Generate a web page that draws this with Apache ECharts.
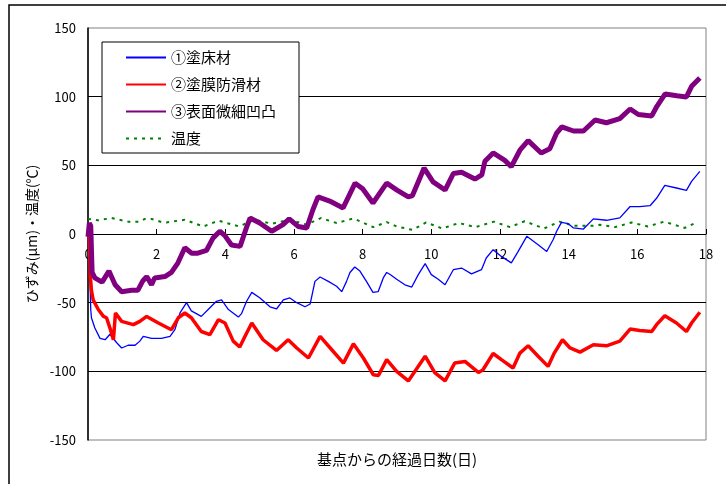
<!DOCTYPE html>
<html>
<head>
<meta charset="utf-8">
<script src="https://cdn.jsdelivr.net/npm/echarts@6/dist/echarts.min.js"></script>
<style>
  html, body { margin: 0; padding: 0; background: #fff; }
  #chart { width: 726px; height: 484px; }
</style>
</head>
<body>
<div id="chart"></div>
<script>
// 値は画像から読み取り [経過日数, 値]
var seriesNames = ['①塗床材', '②塗膜防滑材', '③表面微細凹凸', '温度'];
var yTicks = [-150, -100, -50, 0, 50, 100, 150];

var floorPts = [
  [0.02,0],[0.08,-55],[0.1,-61],[0.2,-68.5],[0.35,-76],[0.5,-77],[0.64,-73],[0.83,-79],[0.98,-83],
  [1.17,-81],[1.37,-81],[1.51,-78],[1.61,-74.6],[1.85,-76],[2.14,-76],[2.39,-74.6],[2.53,-69.7],
  [2.68,-57.5],[2.87,-50],[3.01,-56],[3.3,-60],[3.5,-55],[3.74,-49],[3.89,-48],[4.09,-55],[4.38,-60.5],
  [4.47,-58],[4.62,-49],[4.77,-42.5],[5.01,-46.6],[5.3,-53],[5.49,-54.6],[5.69,-48],[5.88,-46.6],
  [6.08,-50],[6.32,-53],[6.47,-51],[6.61,-34.5],[6.76,-31.3],[7.0,-34.5],[7.24,-38],[7.39,-42],
  [7.53,-34.5],[7.63,-28],[7.77,-24],[7.92,-27],[8.11,-34.5],[8.3,-42.5],[8.45,-42],[8.6,-32],
  [8.7,-28],[8.8,-29.5],[8.99,-33],[9.23,-37],[9.43,-38.6],[9.62,-29.6],[9.82,-21.6],[10.0,-29.6],
  [10.2,-33],[10.4,-37],[10.64,-26],[10.88,-24.8],[11.17,-29],[11.46,-26],[11.6,-17.5],[11.8,-11.4],
  [12.04,-16.3],[12.33,-21],[12.53,-12.7],[12.78,-1.7],[13.11,-7.8],[13.36,-12.7],[13.55,-4],
  [13.65,2],[13.79,8.5],[13.99,7.5],[14.14,4.4],[14.43,3.6],[14.72,11],[15.1,10],[15.49,11.7],
  [15.79,20],[16.07,20],[16.37,20.6],[16.56,26],[16.8,35.4],[17.14,33.5],[17.43,31.8],[17.58,38.3],
  [17.82,45.6]
];

var coatPts = [
  [0.03,3],[0.07,-31],[0.1,-41],[0.15,-48],[0.3,-55],[0.45,-60],[0.54,-61],[0.64,-68.5],[0.74,-77],
  [0.79,-78],[0.8,-57.5],[0.98,-63.6],[1.32,-66],[1.51,-63.6],[1.71,-60],[2.05,-64.8],[2.43,-69.7],
  [2.63,-61],[2.82,-57.5],[3.01,-61],[3.3,-71],[3.55,-73.3],[3.8,-62.4],[3.99,-64.8],[4.23,-78],
  [4.42,-82.3],[4.57,-74.6],[4.77,-64.8],[5.1,-77],[5.49,-84.8],[5.83,-77],[6.08,-83],[6.42,-90.3],
  [6.76,-74.6],[7.1,-84.3],[7.44,-94],[7.73,-80],[8.02,-90.3],[8.31,-102.5],[8.46,-103],[8.7,-91.5],
  [8.99,-100],[9.33,-107],[9.82,-89],[10.1,-101],[10.4,-107],[10.68,-94],[10.98,-92.8],[11.37,-100.8],
  [11.5,-99],[11.8,-87],[12.04,-91.5],[12.38,-97.6],[12.58,-86.7],[12.82,-81.4],[13.11,-89],
  [13.4,-96.4],[13.58,-86.7],[13.82,-77],[14.04,-83],[14.33,-86],[14.72,-80.6],[15.1,-81.4],
  [15.49,-78],[15.79,-69.2],[16.07,-70.2],[16.42,-71],[16.56,-66],[16.8,-59.5],[17.14,-64.8],
  [17.43,-71],[17.58,-64.8],[17.82,-57]
];

var surfPts = [
  [0,-2],[0.04,8],[0.08,6],[0.12,-28],[0.2,-32],[0.41,-35],[0.61,-27],[0.79,-37],[0.98,-42],
  [1.27,-41],[1.45,-41],[1.6,-34],[1.71,-31],[1.85,-37],[1.94,-32],[2.24,-31],[2.43,-28],[2.62,-21],
  [2.82,-10],[3.02,-14],[3.2,-14],[3.45,-12],[3.64,-3],[3.84,2],[3.98,-1],[4.18,-8],[4.43,-9],
  [4.62,5],[4.72,11.6],[5.0,8],[5.35,2],[5.68,6.8],[5.86,11],[6.12,5.5],[6.37,4.4],[6.55,17.7],
  [6.7,27],[7.04,24],[7.43,19],[7.78,37],[8.0,33],[8.3,22.6],[8.7,37],[9.0,32],[9.33,27],[9.45,28],
  [9.79,48],[10.05,38],[10.4,32],[10.64,44],[10.88,45],[11.27,40],[11.47,43],[11.56,53],[11.8,59],
  [12.14,53.6],[12.33,49],[12.58,61],[12.82,68],[13.2,59],[13.45,62],[13.65,73.5],[13.8,78],
  [14.14,75],[14.43,75],[14.77,83],[15.1,81],[15.49,84],[15.79,91],[16.03,87],[16.42,86],[16.57,93],
  [16.81,102],[17.15,100.7],[17.43,99.8],[17.58,107.5],[17.82,113.6]
];

var tempPts = [
  [0,11],[0.3,10],[0.69,11.6],[1.17,9],[1.51,9],[1.66,11],[1.85,11],[2.14,8.7],[2.28,8.4],
  [2.82,10.4],[3.3,6],[3.36,5.5],[3.8,9.7],[4.4,5.5],[4.85,10.4],[5.35,7.5],[5.88,10.4],[6.37,6.8],
  [6.78,11.6],[7.24,8],[7.73,11.3],[8.31,5],[8.7,8.7],[8.99,5.5],[9.45,3],[9.85,8.4],[10.32,4],
  [10.8,8],[11.28,5],[11.82,9],[12.29,5],[12.72,9.3],[13.28,4],[13.73,9],[14.14,6],[14.71,6],
  [14.91,6.8],[15.35,5],[15.83,8.4],[16.3,5.5],[16.78,9],[17.38,4.4],[17.75,8.8]
];

var chart = echarts.init(document.getElementById('chart'));
var font = '"Noto Sans CJK JP", "Liberation Sans", sans-serif';

var option = {
  animation: false,
  backgroundColor: '#fff',
  textStyle: { fontFamily: font, color: '#000' },
  grid: {
    left: 88, right: 20, top: 28, bottom: 44,
    show: true, borderColor: '#808080', borderWidth: 1
  },
  legend: {
    orient: 'vertical',
    left: 102, top: 42,
    data: seriesNames,
    itemWidth: 40, itemHeight: 14, itemGap: 12,
    padding: [8, 23, 7, 23],
    borderColor: '#000', borderWidth: 1,
    backgroundColor: '#fff',
    itemStyle: { opacity: 0 },
    textStyle: { fontSize: 15, color: '#000', fontFamily: font }
  },
  xAxis: {
    type: 'value',
    min: 0, max: 18, interval: 2,
    offset: -206,  // 0 の位置に軸を置く
    axisLine: { show: true, onZero: false, lineStyle: { color: '#000', width: 1 } },
    axisTick: { show: true, inside: true, length: 5, lineStyle: { color: '#000' } },
    axisLabel: { fontSize: 13, color: '#000', margin: 14, fontFamily: font },
    splitLine: { show: false }
  },
  yAxis: {
    type: 'value',
    min: yTicks[0], max: yTicks[yTicks.length - 1], interval: 50,
    name: 'ひずみ(μm)・温度(℃)',
    nameLocation: 'middle',
    nameGap: 48,
    nameRotate: 90,
    nameTextStyle: { fontSize: 14, color: '#000', fontFamily: font },
    axisLine: { show: true, onZero: false, lineStyle: { color: '#000', width: 1.5 } },
    axisTick: { show: false },
    axisLabel: { fontSize: 13, color: '#000', margin: 12, fontFamily: font },
    splitLine: { show: true, showMinLine: false, showMaxLine: false, lineStyle: { color: '#000', width: 1 } }
  },
  graphic: [
    {
      type: 'rect', silent: true, z: -10,
      shape: { x: 9, y: 5, width: 900, height: 700 },
      style: { fill: 'none', stroke: '#000', lineWidth: 1.5 }
    },
    {
      type: 'text', left: 317, top: 452,
      style: { text: '基点からの経過日数(日)', fill: '#000', font: '15px ' + font }
    }
  ],
  series: [
    {
      name: seriesNames[0], type: 'line', data: floorPts, symbol: 'none', z: 3,
      lineStyle: { color: '#0000ff', width: 1.3 }, itemStyle: { color: '#0000ff' }
    },
    {
      name: seriesNames[1], type: 'line', data: coatPts, symbol: 'none', z: 4,
      lineStyle: { color: '#ff0000', width: 3.5 }, itemStyle: { color: '#ff0000' }
    },
    {
      name: seriesNames[2], type: 'line', data: surfPts, symbol: 'none', z: 5,
      lineStyle: { color: '#800080', width: 5 }, itemStyle: { color: '#800080' }
    },
    {
      name: seriesNames[3], type: 'line', data: tempPts, symbol: 'none', z: 2,
      lineStyle: { color: '#008000', width: 2, type: [3, 5] }, itemStyle: { color: '#008000' }
    }
  ]
};

chart.setOption(option);
</script>
</body>
</html>
